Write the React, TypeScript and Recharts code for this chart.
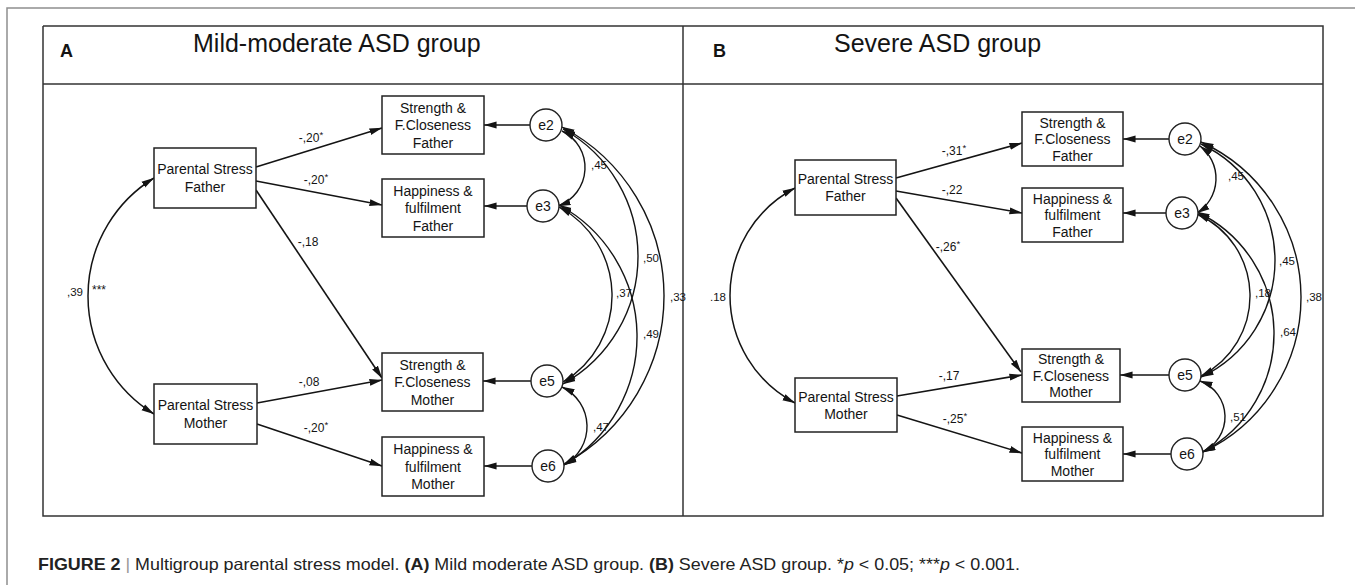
import React from 'react';
import { ComposedChart, XAxis, YAxis, Line, Scatter } from 'recharts';

const WIDTH = 1355;
const HEIGHT = 585;
const FONT = '"Liberation Sans", Arial, Helvetica, sans-serif';
const INK = '#141414';

// ---------------- values (text & coefficients) ----------------
const panelLetters = ['A', 'B'];
const groupTitles = ['Mild-moderate ASD group', 'Severe ASD group'];
const stressLabels = [
  ['Parental Stress', 'Father'],
  ['Parental Stress', 'Mother'],
];
const outcomeLabels = [
  ['Strength &', 'F.Closeness', 'Father'],
  ['Happiness &', 'fulfilment', 'Father'],
  ['Strength &', 'F.Closeness', 'Mother'],
  ['Happiness &', 'fulfilment', 'Mother'],
];
const errorLabels = ['e2', 'e3', 'e5', 'e6'];
const pathFrom = [0, 0, 0, 1, 1];
const pathTo = [0, 1, 2, 2, 3];
const pathCoefA = ['-,20', '-,20', '-,18', '-,08', '-,20'];
const pathStarsA = ['*', '*', '', '', '*'];
const pathCoefB = ['-,31', '-,22', '-,26', '-,17', '-,25'];
const pathStarsB = ['*', '', '*', '', '*'];
const stressCovA = ',39';
const stressCovStarsA = '***';
const stressCovB = '.18';
const stressCovStarsB = '';
const errCovA = [',45', ',50', ',33', ',37', ',49', ',47'];
const errCovB = [',45', ',45', ',38', ',18', ',64', ',51'];

// ---------------- layout (positions in chart units) ----------------
type P = [number, number];
const layoutA = {
  letter: [60, 56.5] as P,
  title: [193, 52] as P,
  stress: [
    { x: 205, y: 178, w: 102, h: 60, lh: 18 },
    { x: 205.5, y: 414, w: 103, h: 60, lh: 18 },
  ],
  outcome: [
    { x: 433, y: 125, w: 102, h: 58, lh: 17.5 },
    { x: 433, y: 208, w: 102, h: 58, lh: 17.5 },
    { x: 432.5, y: 382, w: 101, h: 58, lh: 17.5 },
    { x: 433, y: 466.5, w: 102, h: 59, lh: 17.5 },
  ],
  error: [[546, 125], [543, 206], [547, 381], [548, 466]] as P[],
  pathStart: [[256, 167], [256, 181], [256, 190], [257, 403], [257, 424]] as P[],
  pathEnd: [[382, 128], [382, 205], [382, 378], [382, 380], [382, 466]] as P[],
  pathLabel: [[311, 138], [316, 180], [308, 242], [309, 382], [316, 428]] as P[],
  // from, point on arc (apex), to
  stressCov: [[154, 178], [88, 296], [154, 414]] as P[],
  stressCovLabel: [75, 292] as P,
  stressCovStars: [99, 290] as P,
  errCov: [
    [[562, 131], [585, 167], [558, 206]],
    [[563, 129], [638, 256], [563, 384]],
    [[562, 127], [664, 296], [564, 464]],
    [[559, 207], [612, 293], [563, 382]],
    [[559, 205], [637, 334], [564, 465]],
    [[562, 387], [587, 428], [564, 465]],
  ] as P[][],
  errCovLabel: [[599, 165], [651, 258], [678, 297], [624, 293], [651, 334], [601, 427]] as P[],
};
const layoutB = {
  letter: [713, 56.5] as P,
  title: [834, 52] as P,
  stress: [
    { x: 845.5, y: 187.5, w: 101, h: 55, lh: 17 },
    { x: 846, y: 405, w: 102, h: 54, lh: 17 },
  ],
  outcome: [
    { x: 1072.5, y: 139, w: 101, h: 54, lh: 16.5 },
    { x: 1072.5, y: 215, w: 101, h: 54, lh: 16.5 },
    { x: 1071, y: 375.5, w: 98, h: 53, lh: 16.5 },
    { x: 1072.5, y: 454, w: 101, h: 54, lh: 16.5 },
  ],
  error: [[1185, 139], [1182, 213], [1185, 375], [1187, 454]] as P[],
  pathStart: [[896, 178], [896, 191], [896, 198], [897, 396], [897, 415]] as P[],
  pathEnd: [[1022, 143], [1022, 213], [1021, 372], [1022, 375], [1022, 453]] as P[],
  pathLabel: [[954, 151], [952, 190], [948, 247], [949, 376], [955, 419]] as P[],
  stressCov: [[795, 188], [730, 296], [795, 403]] as P[],
  stressCovLabel: [718, 297] as P,
  stressCovStars: [740, 290] as P,
  errCov: [
    [[1200, 146], [1216, 178], [1197, 213]],
    [[1201, 144], [1275, 260], [1201, 377]],
    [[1201, 142], [1301, 297], [1203, 452]],
    [[1197, 214], [1250, 294], [1201, 376]],
    [[1197, 212], [1274, 332], [1203, 452]],
    [[1200, 381], [1225, 416], [1202, 452]],
  ] as P[][],
  errCovLabel: [[1236, 176], [1287, 261], [1314, 297], [1263, 293], [1288, 332], [1238, 417]] as P[],
};
const ERR_R = 16;

const outerFrame: P[] = [[7, 585], [7, 8], [1355, 8]];
const innerFrame: P[] = [[43, 26], [1323, 26], [1323, 516], [43, 516], [43, 26]];
const headerRule: P[] = [[43, 84], [1323, 84]];
const panelDivider: P[] = [[683, 26], [683, 516]];
const captionAt: P = [38, 564];

// ---------------- helpers ----------------
const toPts = (ps: P[]) => ps.map(([x, y]) => ({ x, y }));

// circular arc through three points (start, apex, end)
function arcCurve(context: any) {
  let pts: Array<[number, number]> = [];
  return {
    areaStart() {},
    areaEnd() {},
    lineStart() {
      pts = [];
    },
    point(x: number, y: number) {
      pts.push([+x, +y]);
    },
    lineEnd() {
      if (!pts.length) return;
      const [a, b, c] = pts;
      context.moveTo(a[0], a[1]);
      if (pts.length !== 3) {
        for (let i = 1; i < pts.length; i++) context.lineTo(pts[i][0], pts[i][1]);
        return;
      }
      const d = 2 * (a[0] * (b[1] - c[1]) + b[0] * (c[1] - a[1]) + c[0] * (a[1] - b[1]));
      if (Math.abs(d) < 1e-9) {
        context.lineTo(c[0], c[1]);
        return;
      }
      const a2 = a[0] * a[0] + a[1] * a[1];
      const b2 = b[0] * b[0] + b[1] * b[1];
      const c2 = c[0] * c[0] + c[1] * c[1];
      const ux = (a2 * (b[1] - c[1]) + b2 * (c[1] - a[1]) + c2 * (a[1] - b[1])) / d;
      const uy = (a2 * (c[0] - b[0]) + b2 * (a[0] - c[0]) + c2 * (b[0] - a[0])) / d;
      const r = Math.hypot(a[0] - ux, a[1] - uy);
      const t0 = Math.atan2(a[1] - uy, a[0] - ux);
      const t1 = Math.atan2(b[1] - uy, b[0] - ux);
      const t2 = Math.atan2(c[1] - uy, c[0] - ux);
      const TAU = Math.PI * 2;
      const norm = (v: number) => ((v % TAU) + TAU) % TAU;
      const d1 = norm(t1 - t0);
      const d2 = norm(t2 - t0);
      const ccw = !(d1 < d2);
      context.arc(ux, uy, r, t0, t2, ccw);
    },
  };
}

type LineSpec = { key: string; data: { x: number; y: number }[]; curved?: boolean; start?: boolean; end?: boolean; stroke: string; sw: number };

function buildPanel(
  L: typeof layoutA,
  tag: string,
  pathCoef: string[],
  pathStars: string[],
  stressCov: string,
  stressStars: string,
  errCov: string[],
) {
  const lines: LineSpec[] = [];
  pathFrom.forEach((_, i) => {
    lines.push({ key: `${tag}-path-${i}`, data: toPts([L.pathStart[i], L.pathEnd[i]]), end: true, stroke: INK, sw: 1.6 });
  });
  L.error.forEach(([ex, ey], i) => {
    const box = L.outcome[i];
    lines.push({
      key: `${tag}-err-${i}`,
      data: [{ x: ex - ERR_R, y: ey }, { x: box.x + box.w / 2, y: ey }],
      end: true,
      stroke: INK,
      sw: 1.6,
    });
  });
  lines.push({ key: `${tag}-scov`, data: toPts(L.stressCov), curved: true, start: true, end: true, stroke: INK, sw: 1.5 });
  L.errCov.forEach((c, i) => {
    lines.push({ key: `${tag}-ecov-${i}`, data: toPts(c), curved: true, start: true, end: true, stroke: INK, sw: 1.4 });
  });

  const boxes = [
    ...L.stress.map((b, i) => ({ ...b, lines: stressLabels[i] })),
    ...L.outcome.map((b, i) => ({ ...b, lines: outcomeLabels[i] })),
  ];
  const circles = L.error.map(([x, y], i) => ({ x, y, text: errorLabels[i] }));
  const pathLabels = L.pathLabel.map(([x, y], i) => ({ x, y, text: pathCoef[i], sup: pathStars[i] }));
  const covLabels = [
    ...L.errCov.map((_, i) => ({ x: L.errCovLabel[i][0], y: L.errCovLabel[i][1], text: errCov[i], sup: '' })),
    { x: L.stressCovLabel[0], y: L.stressCovLabel[1], text: stressCov, sup: '' },
  ];
  const stars = stressStars ? [{ x: L.stressCovStars[0], y: L.stressCovStars[1], text: stressStars, sup: '' }] : [];
  return { lines, boxes, circles, pathLabels, covLabels, stars };
}

const panelA = buildPanel(layoutA, 'A', pathCoefA, pathStarsA, stressCovA, stressCovStarsA, errCovA);
const panelB = buildPanel(layoutB, 'B', pathCoefB, pathStarsB, stressCovB, stressCovStarsB, errCovB);

const frameLines: LineSpec[] = [
  { key: 'outer', data: toPts(outerFrame), stroke: '#8f8f8f', sw: 1.5 },
  { key: 'inner', data: toPts(innerFrame), stroke: '#333', sw: 1.5 },
  { key: 'rule', data: toPts(headerRule), stroke: '#333', sw: 1.5 },
  { key: 'divider', data: toPts(panelDivider), stroke: '#333', sw: 1.5 },
];
const allLines = [...frameLines, ...panelA.lines, ...panelB.lines];
const allBoxes = [...panelA.boxes, ...panelB.boxes];
const allCircles = [...panelA.circles, ...panelB.circles];
const allPathLabels = [...panelA.pathLabels, ...panelB.pathLabels];
const allCovLabels = [...panelA.covLabels, ...panelB.covLabels];
const allStars = [...panelA.stars, ...panelB.stars];
const letters = [layoutA.letter, layoutB.letter].map(([x, y], i) => ({ x, y, text: panelLetters[i] }));
const titles = [layoutA.title, layoutB.title].map(([x, y], i) => ({ x, y, text: groupTitles[i] }));

// ---------------- shapes ----------------
const boxShape = (p: any) => {
  const { cx, cy, payload } = p;
  const { w, h, lh, lines } = payload;
  return (
    <g>
      <rect x={cx - w / 2} y={cy - h / 2} width={w} height={h} fill="#fff" stroke="#222" strokeWidth={1.5} />
      {lines.map((t: string, i: number) => (
        <text
          key={i}
          x={cx}
          y={cy + (i - (lines.length - 1) / 2) * lh}
          textAnchor="middle"
          dominantBaseline="central"
          fontSize={14}
          fontFamily={FONT}
          fill={INK}
        >
          {t}
        </text>
      ))}
    </g>
  );
};

const circleShape = (p: any) => {
  const { cx, cy, payload } = p;
  return (
    <g>
      <circle cx={cx} cy={cy} r={ERR_R} fill="#fff" stroke="#222" strokeWidth={1.4} />
      <text x={cx} y={cy} textAnchor="middle" dominantBaseline="central" fontSize={14} fontFamily={FONT} fill={INK}>
        {payload.text}
      </text>
    </g>
  );
};

const makeText =
  (fs: number, anchor: 'start' | 'middle' | 'end', weight: number | string = 'normal', baseline: string = 'central') =>
  (p: any) => {
    const { cx, cy, payload } = p;
    return (
      <text
        x={cx}
        y={cy}
        textAnchor={anchor}
        dominantBaseline={baseline as any}
        fontSize={fs}
        fontWeight={weight}
        fontFamily={FONT}
        fill={INK}
      >
        {payload.text}
        {payload.sup ? (
          <tspan dy={-4} fontSize={fs * 0.8}>
            {payload.sup}
          </tspan>
        ) : null}
      </text>
    );
  };

const captionShape = (p: any) => {
  const { cx, cy } = p;
  return (
    <text x={cx} y={cy} dominantBaseline="central" fontSize={16.5} fontFamily={FONT} fill="#222" textLength={982} lengthAdjust="spacingAndGlyphs">
      <tspan fontWeight="bold">FIGURE 2</tspan>
      <tspan fill="#999"> | </tspan>
      <tspan>Multigroup parental stress model. </tspan>
      <tspan fontWeight="bold">(A)</tspan>
      <tspan> Mild moderate ASD group. </tspan>
      <tspan fontWeight="bold">(B)</tspan>
      <tspan> Severe ASD group. *</tspan>
      <tspan fontStyle="italic">p</tspan>
      <tspan> &lt; 0.05; ***</tspan>
      <tspan fontStyle="italic">p</tspan>
      <tspan> &lt; 0.001.</tspan>
    </text>
  );
};

export default function App() {
  return (
    <div style={{ position: 'absolute', left: 0, top: 0, background: '#fff' }}>
      <ComposedChart width={WIDTH} height={HEIGHT} margin={{ top: 0, right: 0, bottom: 0, left: 0 }}>
        <defs>
          <marker
            id="ah"
            viewBox="0 0 14 8"
            refX={13.5}
            refY={4}
            markerWidth={13}
            markerHeight={8}
            markerUnits="userSpaceOnUse"
            orient="auto-start-reverse"
          >
            <path d="M0,0.3 L14,4 L0,7.7 Z" fill={INK} />
          </marker>
        </defs>
        <XAxis type="number" dataKey="x" domain={[0, WIDTH]} allowDataOverflow hide />
        <YAxis type="number" dataKey="y" domain={[0, HEIGHT]} allowDataOverflow reversed hide />
        <Scatter data={allBoxes} dataKey="y" shape={boxShape} isAnimationActive={false} legendType="none" />
        <Scatter data={allCircles} dataKey="y" shape={circleShape} isAnimationActive={false} legendType="none" />
        {allLines.map((l) => (
          <Line
            key={l.key}
            data={l.data}
            dataKey="y"
            type={l.curved ? (arcCurve as any) : 'linear'}
            stroke={l.stroke}
            strokeWidth={l.sw}
            fill="none"
            dot={false}
            activeDot={false}
            isAnimationActive={false}
            legendType="none"
            markerStart={l.start ? 'url(#ah)' : undefined}
            markerEnd={l.end ? 'url(#ah)' : undefined}
          />
        ))}
        <Scatter data={allPathLabels} dataKey="y" shape={makeText(12, 'middle')} isAnimationActive={false} legendType="none" />
        <Scatter data={allCovLabels} dataKey="y" shape={makeText(11.5, 'middle')} isAnimationActive={false} legendType="none" />
        <Scatter data={allStars} dataKey="y" shape={makeText(12, 'middle')} isAnimationActive={false} legendType="none" />
        <Scatter data={letters} dataKey="y" shape={makeText(18, 'start', 'bold', 'auto')} isAnimationActive={false} legendType="none" />
        <Scatter data={titles} dataKey="y" shape={makeText(25, 'start', 'normal', 'auto')} isAnimationActive={false} legendType="none" />
        <Scatter data={[{ x: captionAt[0], y: captionAt[1] }]} dataKey="y" shape={captionShape} isAnimationActive={false} legendType="none" />
      </ComposedChart>
    </div>
  );
}
